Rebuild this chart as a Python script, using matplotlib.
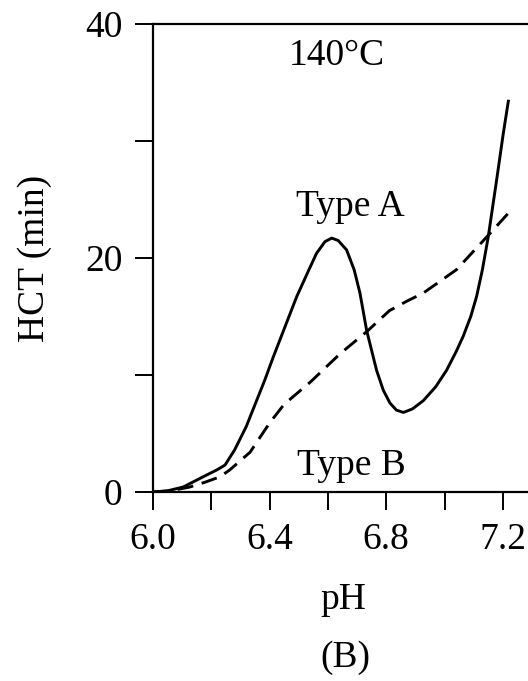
import matplotlib.pyplot as plt

# Data
ph_a = [6.0, 6.05, 6.104, 6.172, 6.22, 6.247, 6.28, 6.32, 6.384, 6.412, 6.493,
        6.535, 6.561, 6.59, 6.613, 6.635, 6.664, 6.69, 6.71, 6.733, 6.767,
        6.79, 6.813, 6.835, 6.859, 6.89, 6.927, 6.97, 7.007, 7.04, 7.064,
        7.09, 7.11, 7.13, 7.15, 7.179, 7.202, 7.219]
hct_a = [0, 0.1, 0.43, 1.3, 1.9, 2.3, 3.6, 5.6, 9.6, 11.5, 16.7,
         19.0, 20.4, 21.4, 21.7, 21.5, 20.7, 19.0, 17.0, 13.8, 10.4,
         8.7, 7.6, 7.0, 6.8, 7.1, 7.8, 9.0, 10.4, 12.0, 13.3,
         15.0, 16.7, 19.0, 21.8, 26.7, 30.7, 33.4]

ph_b = [6.0, 6.06, 6.127, 6.18, 6.23, 6.264, 6.333, 6.40, 6.45, 6.54, 6.641,
        6.733, 6.811, 6.87, 6.927, 7.041, 7.156, 7.225]
hct_b = [0, 0.1, 0.43, 0.85, 1.3, 1.9, 3.4, 5.9, 7.5, 9.4, 11.8,
         13.7, 15.5, 16.3, 17.0, 19.0, 22.1, 24.0]

x_ticks = [6.0, 6.2, 6.4, 6.6, 6.8, 7.0, 7.2]
x_labels = ["6.0", "", "6.4", "", "6.8", "", "7.2"]
y_ticks = [0, 10, 20, 30, 40]
y_labels = ["0", "", "20", "", "40"]

plt.rcParams['font.family'] = ['Liberation Serif', 'DejaVu Serif']
fs = 27

fig = plt.figure(figsize=(5.28, 6.81), dpi=100)
ax = fig.add_axes([153 / 528, 189 / 681, 375 / 528, 468 / 681])

ax.plot(ph_a, hct_a, color='black', lw=2.1)
ax.plot(ph_b, hct_b, color='black', lw=2.1, dashes=(5.5, 3))

ax.set_xlim(6.0, 6.0 + 375 / 291.5)
ax.set_ylim(0, 40)

ax.set_xticks(x_ticks)
ax.set_xticklabels(x_labels)
ax.set_yticks(y_ticks)
ax.set_yticklabels(y_labels)
ax.tick_params(direction='out', length=13, width=1.4, labelsize=fs, pad=9)

ax.spines['right'].set_visible(False)
for s in ['left', 'top', 'bottom']:
    ax.spines[s].set_linewidth(1.6)

ax.set_ylabel("HCT (min)", fontsize=fs, va='center')
ax.yaxis.set_label_coords(-0.315, 0.5)
ax.text(0.507, -0.231, "pH", transform=ax.transAxes, fontsize=fs,
        ha='center', va='center')
ax.text(0.512, -0.355, "(B)", transform=ax.transAxes, fontsize=fs,
        ha='center', va='center')

ax.text(6.63, 36.5, "140\u00b0C", fontsize=fs, ha='center', va='baseline')
ax.text(6.676, 23.6, "Type A", fontsize=fs, ha='center', va='baseline')
ax.text(6.68, 1.43, "Type B", fontsize=fs, ha='center', va='baseline')

fig.savefig("out.png", dpi=100)
